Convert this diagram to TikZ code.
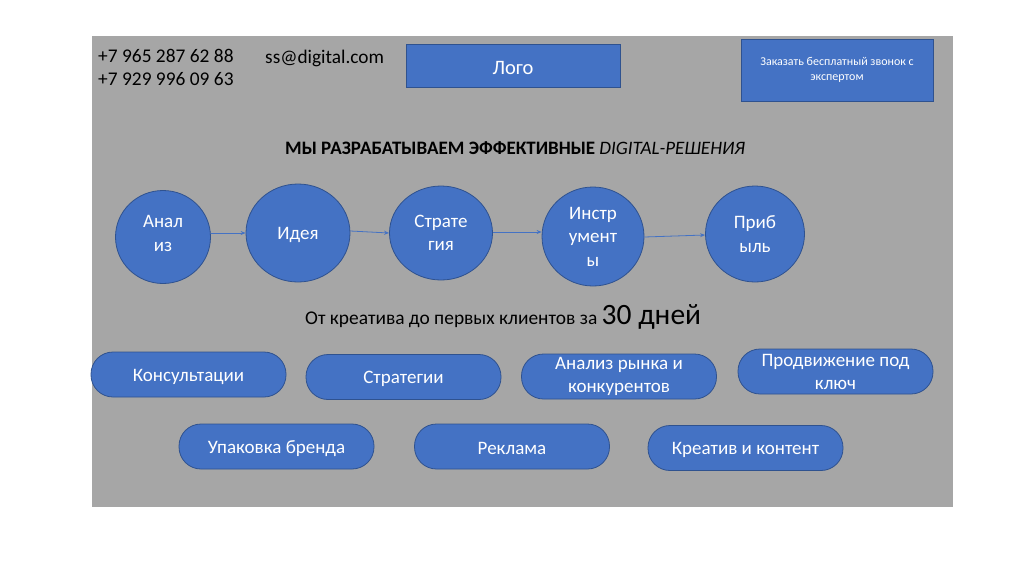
\documentclass[tikz,border=0pt]{standalone}
\usepackage{fontspec}
\setmainfont{Carlito}
\usetikzlibrary{shapes.geometric,arrows.meta}
\definecolor{bg}{HTML}{A6A6A6}
\definecolor{blu}{HTML}{4472C4}
\definecolor{bord}{HTML}{2F528F}
\tikzset{
  box/.style={draw=bord, fill=blu, line width=0.8pt, text=white, align=center, inner sep=0pt},
  circ/.style={ellipse, draw=bord, fill=blu, line width=0.8pt, text=white, align=center, inner sep=0pt, font=\fontsize{19}{23.5}\selectfont},
  pill/.style={draw=bord, fill=blu, line width=0.8pt, text=white, align=center, inner sep=0pt, minimum width=195pt, minimum height=45pt, rounded corners=22pt, font=\fontsize{19}{23}\selectfont},
  lbl/.style={text=white, align=center, inner sep=0pt},
  flow/.style={draw=blu, line width=0.8pt, -{Stealth[length=5pt,width=4pt]}},
  plain/.style={text=black, inner sep=0pt}
}
\begin{document}
\begin{tikzpicture}[x=1pt,y=-1pt]
\useasboundingbox (0,0) rectangle (1024,574);
\fill[white] (0,0) rectangle (1024,574);
\fill[bg] (92,36) rectangle (953,507);
% header
\node[plain, anchor=west, align=left, font=\fontsize{19.4}{23}\selectfont] (phones) at (98,67) {+7 965 287 62 88\\+7 929 996 09 63};
\node[plain, anchor=west, font=\fontsize{19.3}{22}\selectfont] (mail) at (265,58) {ss@digital.com};
\node[box, minimum width=214pt, minimum height=43pt, label={[lbl, yshift=-2pt, font=\fontsize{20.5}{24}\selectfont]center:Лого}] (logo) at (513,65.5) {};
\node[box, minimum width=192pt, minimum height=62pt, font=\fontsize{12}{15}\selectfont] (call) at (837,70) {Заказать бесплатный звонок с\\экспертом};
% title
\node[plain, font=\fontsize{19}{22}\selectfont] (title) at (515,148) {\textbf{МЫ РАЗРАБАТЫВАЕМ ЭФФЕКТИВНЫЕ} \textit{DIGITAL-РЕШЕНИЯ}};
% circles
\node[circ, minimum width=95pt, minimum height=93pt, label={[lbl, yshift=3.5pt, font=\fontsize{19}{23.5}\selectfont]center:Анал\\из}] (c1) at (163,237) {};
\node[circ, minimum width=104pt, minimum height=98pt, label={[lbl, yshift=-2pt, font=\fontsize{19}{23.5}\selectfont]center:Идея}] (c2) at (298,233) {};
\node[circ, minimum width=103pt, minimum height=94pt] (c3) at (441,233) {Страте\\гия};
\node[circ, minimum width=102pt, minimum height=99pt] (c4) at (593,236.5) {Инстр\\умент\\ы};
\node[circ, minimum width=99pt, minimum height=96pt] (c5) at (755,234) {Приб\\ыль};
\draw[flow] (c1.east |- 0,233) -- (c2.west |- 0,233);
\draw[flow] (c2.east |- 0,231) -- (c3.west |- 0,233);
\draw[flow] (c3.east |- 0,232) -- (c4.west |- 0,232);
\draw[flow] (c4.east |- 0,237) -- (c5.west |- 0,235);
% tagline
\node[plain, anchor=base west] (tag) at (305,324) {\fontsize{19.4}{22}\selectfont От креатива до первых клиентов за \fontsize{29.5}{33}\selectfont 30 дней};
% pills
\tikzset{pl/.style={label={[lbl, yshift=-2pt, font=\fontsize{19}{23}\selectfont]center:#1}}}
\node[pill, pl=Консультации] (p1) at (188.5,374.5) {};
\node[pill, pl=Стратегии] (p2) at (403.5,377) {};
\node[pill] (p3) at (619,376.5) {Анализ рынка и\\конкурентов};
\node[pill] (p4) at (835.5,371.5) {Продвижение под\\ключ};
\node[pill, pl=Упаковка бренда] (p5) at (276.5,446.5) {};
\node[pill, pl=Реклама] (p6) at (512,446.5) {};
\node[pill, pl=Креатив и контент] (p7) at (745.5,448) {};
\end{tikzpicture}
\end{document}
